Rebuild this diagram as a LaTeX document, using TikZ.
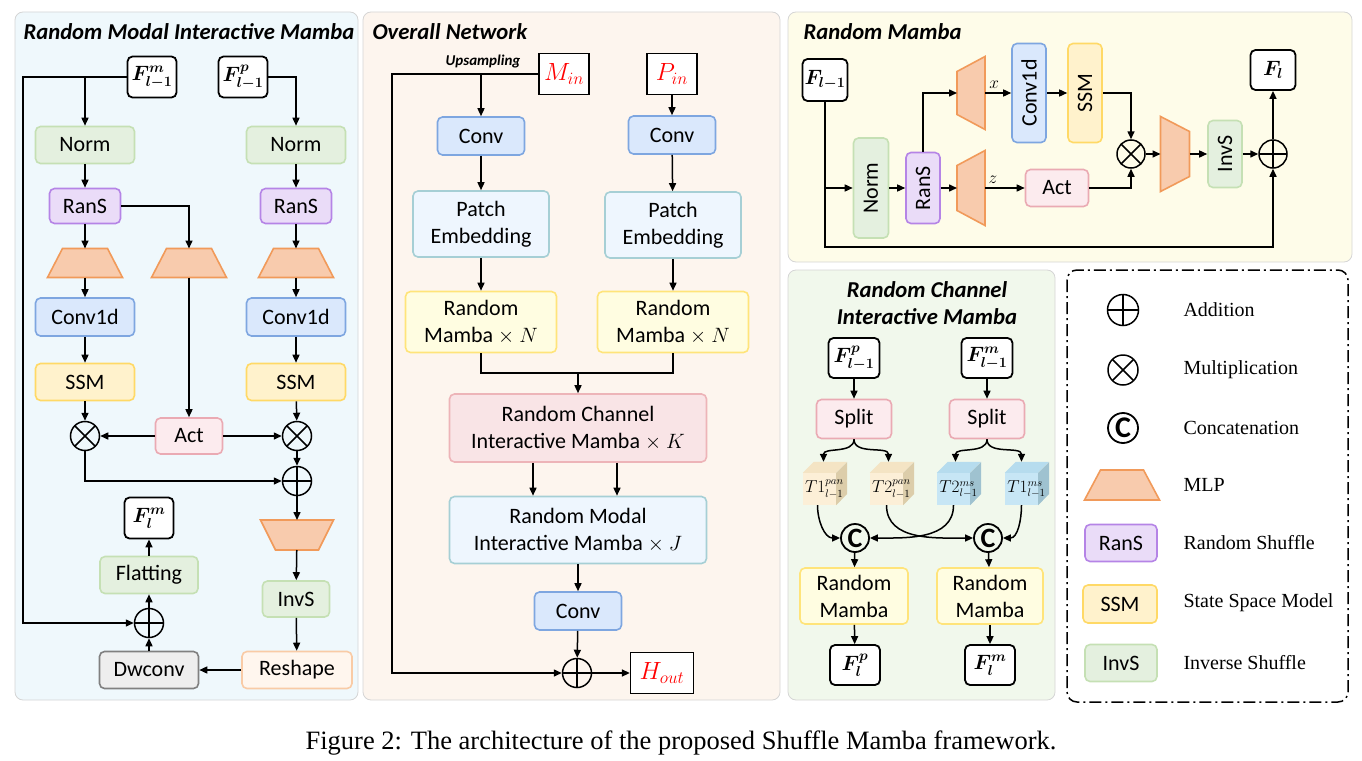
\documentclass[tikz,border=0pt]{standalone}
\usepackage{fontspec}
\usepackage{amsmath,bm}
\setmainfont{Liberation Serif}
\newfontfamily\cf{Carlito}
\usetikzlibrary{arrows.meta,shapes.geometric,calc}
\definecolor{pLeft}{HTML}{EFF8FC}
\definecolor{pMid}{HTML}{FDF5EE}
\definecolor{pRM}{HTML}{FEFCE9}
\definecolor{pRC}{HTML}{F1F8EC}
\definecolor{pBorder}{HTML}{D5D5D5}
\definecolor{gF}{HTML}{E4F0DF}\definecolor{gD}{HTML}{C5E0B4}
\definecolor{puF}{HTML}{EADCF8}\definecolor{puD}{HTML}{B584E6}
\definecolor{mF}{HTML}{F8CBAD}\definecolor{mD}{HTML}{F19A5A}
\definecolor{bF}{HTML}{DAE8FC}\definecolor{bD}{HTML}{7EA6E0}
\definecolor{yF}{HTML}{FFF2CC}\definecolor{yD}{HTML}{FFD966}
\definecolor{kF}{HTML}{FCEBEE}\definecolor{kD}{HTML}{EAAAB3}
\definecolor{rsF}{HTML}{FFF6EE}\definecolor{rsD}{HTML}{F9CBA6}
\definecolor{dwF}{HTML}{EEEEEE}\definecolor{dwD}{HTML}{808080}
\definecolor{peF}{HTML}{EEF6FE}\definecolor{peD}{HTML}{A6CFD5}
\definecolor{rmF}{HTML}{FFFDE1}\definecolor{rmD}{HTML}{FFE47A}
\definecolor{rcF}{HTML}{F9E4E6}\definecolor{rcD}{HTML}{EDB4B8}
\definecolor{tanF}{HTML}{FCEFD7}\definecolor{tanS}{HTML}{DCCDAA}\definecolor{tanT}{HTML}{F4E4C4}
\definecolor{cyF}{HTML}{C7E6F5}\definecolor{cyS}{HTML}{9FC2D0}\definecolor{cyT}{HTML}{B6DCEE}
\tikzset{
 lw/.style={line width=1.5pt},
 con/.style={lw, draw=black},
 arr/.style={lw, -{Triangle[length=8pt,width=7pt]}},
 box/.style={rounded corners=5pt, line width=1.6pt, align=center, inner sep=0pt, font=\cf\fontsize{22}{27}\selectfont},
 normb/.style={box, fill=gF, draw=gD},
 ransb/.style={box, fill=puF, draw=puD},
 convb/.style={box, fill=bF, draw=bD},
 ssmb/.style={box, fill=yF, draw=yD},
 actb/.style={box, fill=kF, draw=kD},
 rmb/.style={box, fill=rmF, draw=rmD},
 peb/.style={box, fill=peF, draw=peD},
 fbox/.style={rounded corners=5pt, line width=1.8pt, draw=black, fill=white, minimum width=49pt, minimum height=41pt, inner sep=0pt, font=\fontsize{21}{24}\selectfont},
 ibox/.style={draw=black, line width=1.3pt, fill=white, minimum width=50pt, minimum height=41pt, inner sep=2pt, font=\fontsize{25}{28}\selectfont, text=red},
 opl/.style={circle, draw, lw, minimum size=29pt, inner sep=0pt, path picture={\draw[lw] (path picture bounding box.north) -- (path picture bounding box.south) (path picture bounding box.west) -- (path picture bounding box.east);}},
 otm/.style={circle, draw, lw, minimum size=29pt, inner sep=0pt, path picture={\draw[lw] (path picture bounding box.north west) -- (path picture bounding box.south east) (path picture bounding box.south west) -- (path picture bounding box.north east);}},
 ccat/.style={circle, draw, line width=1.8pt, minimum size=28pt, inner sep=0pt, font=\cf\bfseries\fontsize{28}{28}\selectfont},
 mlpbox/.style={rectangle, inner sep=0pt, outer sep=0pt},
 mlpsty/.style={fill=mF, draw=mD, line width=1.6pt, line join=miter},
 panel/.style={rounded corners=8pt, draw=pBorder, line width=0.8pt},
 ptitle/.style={font=\cf\bfseries\itshape\fontsize{22.7}{27}\selectfont},
 lgtxt/.style={font=\fontsize{20}{22}\selectfont, anchor=west},
 cubef/.style={minimum width=33pt, minimum height=32pt, inner sep=0pt},
}
% trapezoid MLP drawn on an invisible rectangle node: T = narrow top, B = narrow bottom, L = narrow left, R = narrow right
\newcommand\mlpT[2]{\filldraw[mlpsty] (#1.south west) -- (#1.south east) -- ([xshift=-#2]#1.north east) -- ([xshift=#2]#1.north west) -- cycle;}
\newcommand\mlpB[2]{\filldraw[mlpsty] (#1.north west) -- (#1.north east) -- ([xshift=-#2]#1.south east) -- ([xshift=#2]#1.south west) -- cycle;}
\newcommand\mlpL[2]{\filldraw[mlpsty] (#1.north east) -- (#1.south east) -- ([yshift=#2]#1.south west) -- ([yshift=-#2]#1.north west) -- cycle;}
\newcommand\mlpR[2]{\filldraw[mlpsty] (#1.north west) -- (#1.south west) -- ([yshift=#2]#1.south east) -- ([yshift=-#2]#1.north east) -- cycle;}
\newcommand\mkcube[6]{%
 \node[cubef, fill=#3] (#1) at (#2) {};
 \fill[#5] (#1.north west) -- ++(11pt,11pt) -- ++(33pt,0pt) -- (#1.north east) -- cycle;
 \fill[#4] (#1.north east) -- ++(11pt,11pt) -- ++(0pt,-32pt) -- (#1.south east) -- cycle;
 \node[font=\fontsize{16}{18}\selectfont] (#1t) at ([xshift=5pt]#1.center) {#6};}
\begin{document}
\begin{tikzpicture}[x=1pt,y=-1pt]
\useasboundingbox (0,0) rectangle (1362,760);
% panels
\draw[panel, fill=pLeft] (15,12) rectangle (358,700);
\draw[panel, fill=pMid] (363,12) rectangle (780,700);
\draw[panel, fill=pRM] (788,12) rectangle (1352,262);
\draw[panel, fill=pRC] (788,270) rectangle (1055,700);
\draw[line width=1.5pt, rounded corners=10pt, dash pattern=on 12pt off 4pt on 2pt off 4pt] (1067,270) rectangle (1348,702);
% titles
\node[ptitle, anchor=west] (t1) at (20,32) {Random Modal Interactive Mamba};
\node[ptitle, anchor=west] (t2) at (369,32) {Overall Network};
\node[ptitle, anchor=west] (t3) at (800,32) {Random Mamba};
\node[ptitle, align=center] (t4) at (927,303) {Random Channel\\Interactive Mamba};

% ===== Left panel =====
\node[fbox] (lfm) at (152,77) {$\bm{F^{m}_{l-1}}$};
\node[fbox] (lfp) at (243,77) {$\bm{F^{p}_{l-1}}$};
\node[normb, minimum width=99pt, minimum height=37pt] (ln1) at (85,145) {Norm};
\node[normb, minimum width=99pt, minimum height=37pt] (ln2) at (296,145) {Norm};
\node[ransb, minimum width=71pt, minimum height=35pt] (lr1) at (85,206) {RanS};
\node[ransb, minimum width=71pt, minimum height=35pt] (lr2) at (296,206) {RanS};
\node[mlpbox, minimum width=75pt, minimum height=29pt] (lm1) at (85,263) {}; \mlpT{lm1}{15pt}
\node[mlpbox, minimum width=75pt, minimum height=29pt] (lm2) at (189,263) {}; \mlpT{lm2}{15pt}
\node[mlpbox, minimum width=75pt, minimum height=29pt] (lm3) at (296,263) {}; \mlpT{lm3}{15pt}
\node[convb, minimum width=99pt, minimum height=38pt] (lc1) at (85,317) {Conv1d};
\node[convb, minimum width=99pt, minimum height=38pt] (lc2) at (296,317) {Conv1d};
\node[ssmb, minimum width=99pt, minimum height=37pt] (ls1) at (85,382) {SSM};
\node[ssmb, minimum width=99pt, minimum height=37pt] (ls2) at (296,382) {SSM};
\node[otm] (lx1) at (85,436) {};
\node[otm] (lx2) at (297,436) {};
\node[actb, minimum width=67pt, minimum height=36pt] (lact) at (189,436) {Act};
\node[opl] (lp1) at (297,481) {};
\node[mlpbox, minimum width=73pt, minimum height=30pt] (lm4) at (297,535) {}; \mlpB{lm4}{15pt}
\node[normb, minimum width=67pt, minimum height=36pt] (linv) at (296,599) {InvS};
\node[box, fill=rsF, draw=rsD, minimum width=110pt, minimum height=37pt] (lresh) at (297,670) {Reshape};
\node[box, fill=dwF, draw=dwD, minimum width=99pt, minimum height=37pt] (ldw) at (149,670) {Dwconv};
\node[opl] (lp2) at (149,623) {};
\node[normb, minimum width=98pt, minimum height=37pt] (lflat) at (149,575) {Flatting};
\node[fbox] (lfml) at (149,518) {$\bm{F^{m}_{l}}$};
\coordinate (lA) at (23,77);
\coordinate (lB) at (85,77);
\draw[arr] (lfm.west) -- (lA) |- (lp2);
\draw[arr] (lB) -- (ln1);
\draw[arr] (lfp.east) -| (ln2);
\draw[arr] (ln1) -- (lr1);
\draw[arr] (lr1) -- (lm1);
\draw[arr] (lm1) -- (lc1);
\draw[arr] (lc1) -- (ls1);
\draw[arr] (ls1) -- (lx1);
\draw[arr] (ln2) -- (lr2);
\draw[arr] (lr2) -- (lm3);
\draw[arr] (lm3) -- (lc2);
\draw[arr] (lc2) -- (ls2);
\draw[arr] (ls2) -- (lx2);
\draw[arr] (lr1.east) -| (lm2);
\draw[arr] (lm2) -- (lact);
\draw[arr] (lact) -- (lx1);
\draw[arr] (lact) -- (lx2);
\draw[arr] (lx2) -- (lp1);
\draw[arr] (lx1) |- (lp1);
\draw[arr] (lp1) -- (lm4);
\draw[arr] (lm4) -- (linv);
\draw[arr] (linv) -- (lresh);
\draw[arr] (lresh) -- (ldw);
\draw[arr] (ldw) -- (lp2);
\draw[arr] (lp2) -- (lflat);
\draw[arr] (lflat) -- (lfml);

% ===== Middle panel =====
\node[ibox] (mmin) at (564,74) {$M_{in}$};
\node[ibox] (mpin) at (672,74) {$P_{in}$};
\node[font=\cf\bfseries\itshape\fontsize{15}{18}\selectfont] (mup) at (483,62) {Upsampling};
\node[convb, minimum width=87pt, minimum height=38pt] (mc1) at (481,136) {Conv};
\node[convb, minimum width=87pt, minimum height=38pt] (mc2) at (672,135) {Conv};
\node[peb, minimum width=136pt, minimum height=66pt] (mpe1) at (481,224) {Patch\\Embedding};
\node[peb, minimum width=136pt, minimum height=66pt] (mpe2) at (673,225) {Patch\\Embedding};
\node[rmb, minimum width=151pt, minimum height=61pt] (mrm1) at (481,322) {Random\\Mamba $\times$ $N$};
\node[rmb, minimum width=151pt, minimum height=61pt] (mrm2) at (673,322) {Random\\Mamba $\times$ $N$};
\node[box, fill=rcF, draw=rcD, minimum width=257pt, minimum height=68pt] (mrc) at (578,428) {Random Channel\\Interactive Mamba $\times$ $K$};
\node[peb, minimum width=257pt, minimum height=67pt] (mrmi) at (578,530) {Random Modal\\Interactive Mamba $\times$ $J$};
\node[convb, minimum width=87pt, minimum height=38pt] (mc3) at (578,611) {Conv};
\node[opl] (mp) at (577,673) {};
\node[ibox, minimum width=63pt] (mhout) at (662,673) {$H_{out}$};
\coordinate (mA) at (392,74);
\coordinate (mB) at (481,74);
\coordinate (mJ) at (578,373);
\draw[arr] (mmin.west) -- (mA) |- (mp);
\draw[arr] (mB) -- (mc1);
\draw[arr] (mpin) -- (mc2);
\draw[arr] (mc1) -- (mpe1);
\draw[arr] (mpe1) -- (mrm1);
\draw[arr] (mc2) -- (mpe2);
\draw[arr] (mpe2) -- (mrm2);
\draw[con] (mrm1.south) |- (mJ) -| (mrm2.south);
\draw[arr] (mJ) -- (mrc);
\draw[arr] ([xshift=-45pt]mrc.south) -- ([xshift=-45pt]mrmi.north);
\draw[arr] ([xshift=39pt]mrc.south) -- ([xshift=39pt]mrmi.north);
\draw[arr] (mrmi) -- (mc3);
\draw[arr] (mc3) -- (mp);
\draw[arr] (mp) -- (mhout);

% ===== Random Mamba panel =====
\node[fbox, minimum width=45pt, minimum height=42pt] (rfl1) at (825,80) {$\bm{F_{l-1}}$};
\node[normb, rotate=90, minimum width=100pt, minimum height=35pt] (rnorm) at (871,188) {Norm};
\node[ransb, rotate=90, minimum width=71pt, minimum height=34pt] (rrans) at (923,188) {RanS};
\node[mlpbox, minimum width=28pt, minimum height=73pt] (rm1) at (971,93) {}; \mlpL{rm1}{15pt}
\node[mlpbox, minimum width=28pt, minimum height=75pt] (rm2) at (971,188) {}; \mlpL{rm2}{15pt}
\node[convb, rotate=90, minimum width=99pt, minimum height=34pt] (rconv) at (1029,93) {Conv1d};
\node[ssmb, rotate=90, minimum width=99pt, minimum height=34pt] (rssm) at (1085,93) {SSM};
\node[otm, minimum size=28pt] (rx) at (1131,154) {};
\node[actb, minimum width=63pt, minimum height=37pt] (ract) at (1057,188) {Act};
\node[mlpbox, minimum width=29pt, minimum height=75pt] (rm3) at (1175,154) {}; \mlpR{rm3}{15pt}
\node[normb, rotate=90, minimum width=67pt, minimum height=34pt] (rinv) at (1225,154) {InvS};
\node[opl, minimum size=28pt] (rp) at (1273,154) {};
\node[fbox, minimum width=45pt, minimum height=40pt] (rfl) at (1273,70) {$\bm{F_{l}}$};
\coordinate (rj1) at (825,188);
\coordinate (rj2) at (825,247);
\draw[arr] (rfl1.south) -- (rj2) -| (rp);
\draw[arr] (rj1) -- (rnorm);
\draw[arr] (rnorm) -- (rrans);
\draw[arr] (rrans) -- (rm2);
\draw[arr] (rrans.east) |- (rm1.west);
\draw[arr] (rm1.east) -- node[above, font=\fontsize{18}{20}\selectfont, pos=0.35] (lblx) {$x$} (rconv.north);
\draw[arr] (rconv.south) -- (rssm.north);
\draw[arr] (rssm.south) -| (rx);
\draw[arr] (rm2.east) -- node[above, font=\fontsize{18}{20}\selectfont, pos=0.2] (lblz) {$z$} (ract.west);
\draw[arr] (ract.east) -| (rx);
\draw[arr] (rx) -- (rm3.west);
\draw[arr] (rm3.east) -- (rinv.north);
\draw[arr] (rinv.south) -- (rp);
\draw[arr] (rp) -- (rfl);

% ===== Random Channel Interactive Mamba panel =====
\node[fbox, minimum width=51pt, minimum height=40pt] (cfp) at (854,358) {$\bm{F^{p}_{l-1}}$};
\node[fbox, minimum width=51pt, minimum height=40pt] (cfm) at (987,358) {$\bm{F^{m}_{l-1}}$};
\node[actb, minimum width=75pt, minimum height=39pt] (cs1) at (854,419) {Split};
\node[actb, minimum width=75pt, minimum height=39pt] (cs2) at (987,419) {Split};
\mkcube{ct1}{819.5,489}{tanF}{tanS}{tanT}{$T1^{pan}_{l-1}$}
\mkcube{ct2}{886.5,489}{tanF}{tanS}{tanT}{$T2^{pan}_{l-1}$}
\mkcube{ct3}{953.5,489}{cyF}{cyS}{cyT}{$T2^{ms}_{l-1}$}
\mkcube{ct4}{1021.5,489}{cyF}{cyS}{cyT}{$T1^{ms}_{l-1}$}
\node[ccat] (cc1) at (855,538) {C};
\node[ccat] (cc2) at (988,538) {C};
\node[rmb, minimum width=108pt, minimum height=56pt] (crm1) at (854,596) {Random\\Mamba};
\node[rmb, minimum width=106pt, minimum height=56pt] (crm2) at (990,596) {Random\\Mamba};
\node[fbox, minimum width=50pt, minimum height=40pt] (cfpl) at (855,665) {$\bm{F^{p}_{l}}$};
\node[fbox, minimum width=50pt, minimum height=40pt] (cfml) at (990,665) {$\bm{F^{m}_{l}}$};
\draw[arr] (cfp) -- (cs1);
\draw[arr] (cfm) -- (cs2);
\draw[arr] (cs1.south) to[out=-90, in=90] ([xshift=4pt, yshift=11pt]ct1.north);
\draw[arr] (cs1.south) to[out=-90, in=90] ([xshift=2pt, yshift=11pt]ct2.north);
\draw[arr] (cs2.south) to[out=-90, in=90] ([xshift=2pt, yshift=11pt]ct3.north);
\draw[arr] (cs2.south) to[out=-90, in=90] ([xshift=0pt, yshift=11pt]ct4.north);
\draw[arr] ([xshift=-2pt]ct1.south) to[out=-90, in=180] (cc1.west);
\draw[arr] (ct3.south) to[out=-90, in=0] (cc1.east);
\draw[arr] (ct2.south) to[out=-90, in=180] (cc2.west);
\draw[arr] (ct4.south) to[out=-90, in=0] (cc2.east);
\draw[arr] (cc1) -- (crm1);
\draw[arr] (cc2) -- (crm2);
\draw[arr] (crm1) -- (cfpl);
\draw[arr] (crm2) -- (cfml);

% ===== Legend =====
\node[opl, minimum size=31pt] (g1) at (1123,310) {};
\node[otm, minimum size=30pt] (g2) at (1123,370) {};
\node[ccat, minimum size=30pt, font=\cf\bfseries\fontsize{30}{30}\selectfont] (g3) at (1123,428) {C};
\node[mlpbox, minimum width=75pt, minimum height=30pt] (g4) at (1122,485) {}; \mlpT{g4}{16pt}
\node[ransb, minimum width=72pt, minimum height=37pt] (g5) at (1121,543) {RanS};
\node[ssmb, minimum width=74pt, minimum height=38pt] (g6) at (1120,604) {SSM};
\node[normb, minimum width=72pt, minimum height=37pt] (g7) at (1121,663) {InvS};
\node[lgtxt] (gt1) at (1180,310) {Addition};
\node[lgtxt] (gt2) at (1180,370) {Multiplication};
\node[lgtxt] (gt3) at (1180,428) {Concatenation};
\node[lgtxt] (gt4) at (1180,485) {MLP};
\node[lgtxt] (gt5) at (1180,543) {Random Shuffle};
\node[lgtxt] (gt6) at (1180,603) {State Space Model};
\node[lgtxt] (gt7) at (1180,663) {Inverse Shuffle};

% caption
\node[font=\fontsize{26.5}{30}\selectfont] (cap) at (681,743) {Figure 2: The architecture of the proposed Shuffle Mamba framework.};
\end{tikzpicture}
\end{document}
